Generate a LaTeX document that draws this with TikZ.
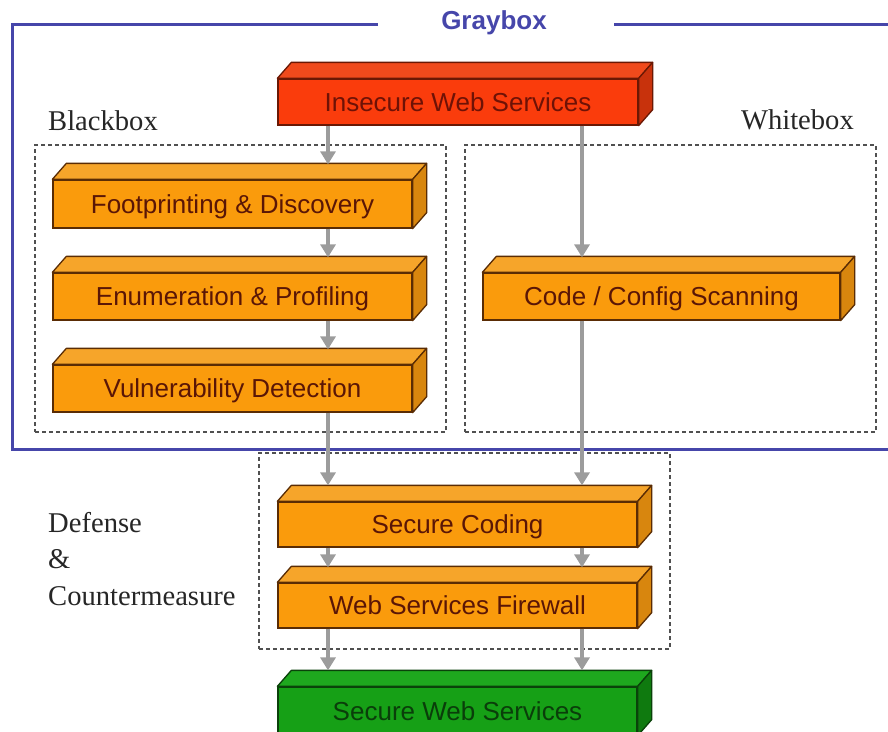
\documentclass[tikz,border=0pt]{standalone}
\usepackage{fontspec}
\setmainfont{Liberation Serif}
\newfontfamily\boxfont{Liberation Sans}
\usetikzlibrary{arrows.meta,calc}

% palette
\definecolor{frameblue}{HTML}{4646AA}
\definecolor{zonegray}{HTML}{505050}
\definecolor{flowgray}{HTML}{9C9C9C}
\definecolor{ofront}{HTML}{FA9B0C}
\definecolor{otop}{HTML}{F6A52A}
\definecolor{oside}{HTML}{D8860E}
\definecolor{oedge}{HTML}{5A2C04}
\definecolor{otext}{HTML}{5A1606}
\definecolor{rfront}{HTML}{FA3C0C}
\definecolor{rtop}{HTML}{F04A1C}
\definecolor{rside}{HTML}{C8320C}
\definecolor{redge}{HTML}{6A1804}
\definecolor{rtext}{HTML}{6E1206}
\definecolor{gfront}{HTML}{16A016}
\definecolor{gtop}{HTML}{1EA81E}
\definecolor{gside}{HTML}{0F7A0F}
\definecolor{gedge}{HTML}{0A420A}
\definecolor{gtext}{HTML}{0A3E0A}

% top and right faces of a 3D slab, built on the front-face node
\newcommand\slabfaces[4]{%
  \filldraw[draw=#2, fill=#3, line width=1.3pt, line join=round]
    (#1.north west) -- ++(14,-16) -- ([shift={(14,-16)}]#1.north east) -- (#1.north east) -- cycle;
  \filldraw[draw=#2, fill=#4, line width=1.3pt, line join=round]
    (#1.north east) -- ++(14,-16) -- ([shift={(14,-16)}]#1.south east) -- (#1.south east) -- cycle;
}

\tikzset{
  slab/.style={rectangle, inner sep=0pt, line width=1.3pt,
    minimum width=359pt, minimum height=47pt,
    text height=18.5pt, text depth=0pt,
    font=\boxfont\fontsize{26}{30}\selectfont},
  orangeslab/.style={slab, draw=oedge, fill=ofront, text=otext},
  redslab/.style={slab, draw=redge, fill=rfront, text=rtext},
  greenslab/.style={slab, draw=gedge, fill=gfront, text=gtext},
  zone/.style={rectangle, draw=zonegray, line width=1.1pt,
    dash pattern=on 4pt off 3pt, inner sep=0pt},
  flow/.style={draw=flowgray, line width=4pt,
    -{Triangle[width=15pt,length=13pt]}},
  serifnote/.style={anchor=base west, inner sep=0pt,
    font=\fontsize{28.6}{32}\selectfont, text=black!85},
}

\begin{document}
\begin{tikzpicture}[x=1pt,y=-1pt]
  \useasboundingbox (0,0) rectangle (888,731);
  \clip (0,0) rectangle (888,731);

  % dashed groupings
  \node[zone, minimum width=411pt, minimum height=287pt] (bbzone) at (240.5,288.5) {};
  \node[zone, minimum width=411pt, minimum height=287pt] (wbzone) at (670.5,288.5) {};
  \node[zone, minimum width=411pt, minimum height=196pt] (dfzone) at (464.5,551) {};

  % the Graybox frame, open at the right
  \node[inner sep=0pt, text=frameblue, font=\boxfont\bfseries\fontsize{26}{30}\selectfont,
    text height=19pt, text depth=0pt]
    (graylbl) at (494,20) {Graybox};
  \draw[frameblue, line width=3pt] (378,24) -- (12,24) -- (12,449) -- (890,449);
  \draw[frameblue, line width=3pt] (614,24) -- (890,24);

  % side labels
  \node[serifnote] (lblblack) at (48,130) {Blackbox};
  \node[serifnote, anchor=base east] (lblwhite) at (854,129) {Whitebox};
  \node[serifnote] (lbldef) at (48,532) {Defense};
  \node[serifnote] (lblamp) at (48,568) {\&};
  \node[serifnote] (lblcounter) at (48,605) {Countermeasure};

  % slabs
  \node[redslab, minimum width=360pt, minimum height=46pt] (insecure) at (458,102) {Insecure Web Services};
  \node[orangeslab, minimum height=48pt] (foot) at (232.5,204) {Footprinting \& Discovery};
  \node[orangeslab] (enum) at (232.5,296.5) {Enumeration \& Profiling};
  \node[orangeslab] (vuln) at (232.5,388.5) {Vulnerability Detection};
  \node[orangeslab, minimum width=357pt] (scan) at (661.5,296.5) {Code / Config Scanning};
  \node[orangeslab, minimum height=45pt] (coding) at (457.5,524.5) {Secure Coding};
  \node[orangeslab, minimum height=45pt] (firewall) at (457.5,605.5) {Web Services Firewall};
  \node[greenslab, minimum height=48pt] (secure) at (457.5,711) {Secure Web Services};

  \slabfaces{insecure}{redge}{rtop}{rside}
  \slabfaces{foot}{oedge}{otop}{oside}
  \slabfaces{enum}{oedge}{otop}{oside}
  \slabfaces{vuln}{oedge}{otop}{oside}
  \slabfaces{scan}{oedge}{otop}{oside}
  \slabfaces{coding}{oedge}{otop}{oside}
  \slabfaces{firewall}{oedge}{otop}{oside}
  \slabfaces{secure}{gedge}{gtop}{gside}

  % flow columns
  \coordinate (lcol) at (328,0);
  \coordinate (rcol) at (582,0);

  % blackbox path
  \draw[flow] (insecure.south -| lcol) -- ($(foot.north -| lcol)+(0,-15)$);
  \draw[flow] (foot.south -| lcol) -- ($(enum.north -| lcol)+(0,-15)$);
  \draw[flow] (enum.south -| lcol) -- ($(vuln.north -| lcol)+(0,-15)$);
  \draw[flow] (vuln.south -| lcol) -- ($(coding.north -| lcol)+(0,-16)$);

  % whitebox path
  \draw[flow] (insecure.south -| rcol) -- ($(scan.north -| rcol)+(0,-15)$);
  \draw[flow] (scan.south -| rcol) -- ($(coding.north -| rcol)+(0,-16)$);

  % defense stack
  \draw[flow] (coding.south -| lcol) -- ($(firewall.north -| lcol)+(0,-15)$);
  \draw[flow] (coding.south -| rcol) -- ($(firewall.north -| rcol)+(0,-15)$);
  \draw[flow] (firewall.south -| lcol) -- ($(secure.north -| lcol)+(0,-16)$);
  \draw[flow] (firewall.south -| rcol) -- ($(secure.north -| rcol)+(0,-16)$);
\end{tikzpicture}
\end{document}
